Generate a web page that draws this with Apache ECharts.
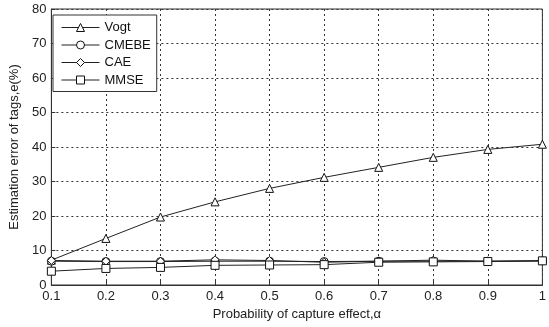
<!DOCTYPE html>
<html>
<head>
<meta charset="utf-8">
<script src="https://cdn.jsdelivr.net/npm/echarts@6/dist/echarts.min.js"></script>
<style>
  html, body { margin: 0; padding: 0; background: #fff; }
  #box { width: 549px; height: 327px; }
</style>
</head>
<body>
<div id="box"></div>
<script>
var categories = ['0.1', '0.2', '0.3', '0.4', '0.5', '0.6', '0.7', '0.8', '0.9', '1'];
var vogt  = [7.2, 13.5, 19.7, 24.1, 28.0, 31.2, 34.1, 37.0, 39.3, 40.8];
var cmebe = [6.9, 6.8, 6.8, 6.9, 6.9, 6.8, 6.9, 6.9, 6.9, 7.0];
var cae   = [7.1, 6.9, 6.9, 7.3, 7.1, 6.6, 6.9, 7.2, 6.9, 7.0];
var mmse  = [4.0, 4.8, 5.1, 5.7, 5.8, 5.9, 6.6, 6.7, 6.8, 7.0];

var myChart = echarts.init(document.getElementById('box'));

function line(name, data, symbol) {
    return {
        name: name,
        type: 'line',
        data: data,
        symbol: symbol,
        symbolSize: 8,
        showAllSymbol: true,
        lineStyle: { color: '#222', width: 1 },
        itemStyle: { color: '#fff', borderColor: '#111', borderWidth: 1 },
        emphasis: { disabled: true },
        animation: false
    };
}

var option = {
    textStyle: { fontFamily: 'Liberation Sans, Arial, sans-serif' },
    grid: {
        left: 47,
        right: 1,
        top: 9,
        bottom: 42,
        show: true,
        borderColor: '#333',
        borderWidth: 1
    },
    legend: {
        orient: 'vertical',
        left: 53,
        top: 15,
        padding: [6, 6, 5, 8],
        itemWidth: 38,
        itemHeight: 10,
        itemGap: 4.5,
        backgroundColor: '#fff',
        borderColor: '#333',
        borderWidth: 1,
        borderRadius: 0,
        lineStyle: { width: 1 },
        itemStyle: { borderWidth: 1 },
        textStyle: { color: '#111', fontSize: 13, fontFamily: 'Liberation Sans, Arial, sans-serif' },
        data: ['Vogt', 'CMEBE', 'CAE', 'MMSE']
    },
    xAxis: {
        type: 'category',
        boundaryGap: false,
        data: categories,
        name: 'Probability of capture effect,\u03b1',
        nameLocation: 'middle',
        nameGap: 23,
        nameTextStyle: { color: '#222', fontSize: 13 },
        axisLine: { lineStyle: { color: '#333' } },
        axisTick: { inside: true, length: 4, lineStyle: { color: '#333' } },
        axisLabel: { color: '#222', fontSize: 13, margin: 5 },
        splitLine: { show: true, lineStyle: { color: '#333', type: [2, 3], width: 1 } }
    },
    yAxis: {
        type: 'value',
        min: 0,
        max: 80,
        interval: 10,
        name: 'Estimation error of tags,e(%)',
        nameLocation: 'middle',
        nameGap: 28,
        nameTextStyle: { color: '#222', fontSize: 13 },
        axisLine: { show: true, lineStyle: { color: '#333' } },
        axisTick: { show: true, inside: true, length: 4, lineStyle: { color: '#333' } },
        axisLabel: { color: '#222', fontSize: 13, margin: 5 },
        splitLine: { show: true, lineStyle: { color: '#333', type: [2, 3], width: 1 } }
    },
    series: [
        line('Vogt', vogt, 'triangle'),
        line('CMEBE', cmebe, 'circle'),
        line('CAE', cae, 'diamond'),
        line('MMSE', mmse, 'rect')
    ]
};
myChart.setOption(option);
</script>
</body>
</html>
